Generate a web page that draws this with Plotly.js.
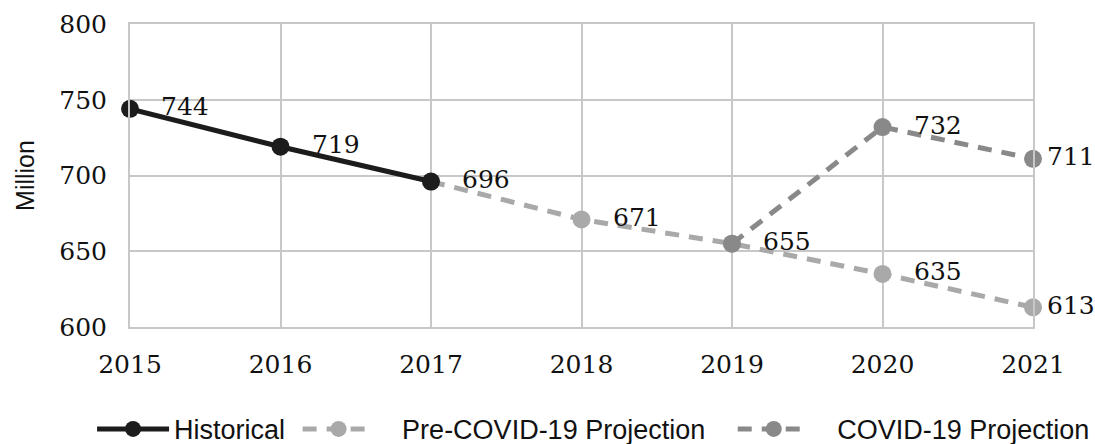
<!DOCTYPE html>
<html>
<head>
<meta charset="utf-8">
<script src="https://cdn.plot.ly/plotly-3.0.1.min.js"></script>
<style>html,body{margin:0;padding:0;background:#fff;}#chart{width:1095px;height:444px;}</style>
</head>
<body>
<div id="chart"></div>
<script>
const histYears = [2015, 2016, 2017];
const histValues = [744, 719, 696];
const preYears = [2017, 2018, 2019, 2020, 2021];
const preValues = [696, 671, 655, 635, 613];
const covidYears = [2019, 2020, 2021];
const covidValues = [655, 732, 711];
const xTicks = [2015, 2016, 2017, 2018, 2019, 2020, 2021];
const yTicks = [600, 650, 700, 750, 800];
const seriesNames = ['Historical', 'Pre-COVID-19 Projection', 'COVID-19 Projection'];

const cHist = '#1c1c1c', cPre = '#a9a9a9', cCov = '#898989';
const NB = '\u00a0';
const pad = (lead, s, trail) => NB.repeat(lead) + s + NB.repeat(trail);

const traces = [
  {x: preYears, y: preValues, name: pad(3, seriesNames[1], 3), legendrank: 2, mode: 'lines+markers', cliponaxis: false,
   line: {color: cPre, width: 5, dash: '14px,10px'}, marker: {color: cPre, size: 18}},
  {x: covidYears, y: covidValues, name: pad(3, seriesNames[2], 0), legendrank: 3, mode: 'lines+markers', cliponaxis: false,
   line: {color: cCov, width: 5, dash: '14px,10px'}, marker: {color: cCov, size: 18}},
  {x: histYears, y: histValues, name: pad(0, seriesNames[0], 1), legendrank: 1, mode: 'lines+markers', cliponaxis: false,
   line: {color: cHist, width: 5}, marker: {color: cHist, size: 18}}
];

const labels = [];
const seen = {};
function addLabels(xs, ys) {
  xs.forEach((x, i) => {
    const k = x + '_' + ys[i];
    if (seen[k]) return;
    seen[k] = 1;
    labels.push({x: x, y: ys[i], text: String(ys[i]), showarrow: false, xanchor: 'left', yanchor: 'middle',
      xshift: x === 2021 ? 12 : 29, yshift: 2,
      font: {family: 'DejaVu Serif', size: 25, color: '#111'}});
  });
}
addLabels(histYears, histValues);
addLabels(preYears, preValues);
addLabels(covidYears, covidValues);

const layout = {
  width: 1095, height: 444,
  margin: {l: 130, r: 62, t: 24, b: 117, autoexpand: false},
  paper_bgcolor: '#fff', plot_bgcolor: '#fff',
  showlegend: true,
  legend: {orientation: 'h', x: -0.042, xanchor: 'left', y: -0.338, yanchor: 'middle',
    font: {family: 'Liberation Sans', size: 27, color: '#111'}, itemwidth: 72,
    traceorder: 'normal'},
  xaxis: {range: [2015, 2021], tickvals: xTicks, ticktext: xTicks.map(String),
    showgrid: true, gridcolor: '#c8c8c8', gridwidth: 2,
    showline: true, mirror: true, linecolor: '#c8c8c8', linewidth: 2, zeroline: false,
    ticks: 'outside', ticklen: 14, tickcolor: 'rgba(0,0,0,0)',
    tickfont: {family: 'DejaVu Serif', size: 25, color: '#111'}},
  yaxis: {range: [600, 800], tickvals: yTicks, ticktext: yTicks.map(String),
    showgrid: true, gridcolor: '#c8c8c8', gridwidth: 2,
    showline: true, mirror: true, linecolor: '#c8c8c8', linewidth: 2, zeroline: false,
    ticks: 'outside', ticklen: 16, tickcolor: 'rgba(0,0,0,0)',
    tickfont: {family: 'DejaVu Serif', size: 25, color: '#111'},
    title: {text: 'Million', standoff: 18, font: {family: 'Liberation Sans', size: 25, color: '#111'}}},
  annotations: labels
};

Plotly.newPlot('chart', traces, layout, {displayModeBar: false, staticPlot: true});
</script>
</body>
</html>
